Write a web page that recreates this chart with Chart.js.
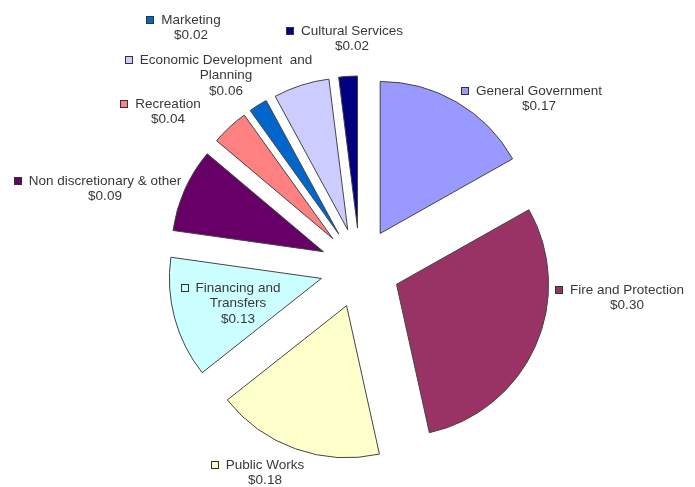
<!DOCTYPE html>
<html>
<head>
<meta charset="utf-8">
<script src="https://cdn.jsdelivr.net/npm/chart.js@4.4.1/dist/chart.umd.min.js"></script>
<style>
  html, body { margin: 0; padding: 0; background: #fff; }
  #wrap { width: 695px; height: 487px; position: relative; }
</style>
</head>
<body>
<div id="wrap"><canvas id="budgetChart"></canvas></div>
<script>
const categories = ['General Government', 'Fire and Protection', 'Public Works', 'Financing and Transfers',
    'Non discretionary & other', 'Recreation', 'Marketing', 'Economic Development  and Planning', 'Cultural Services'];
const values = [0.17, 0.30, 0.18, 0.13, 0.09, 0.04, 0.02, 0.06, 0.02];
const colors = ['#9999ff', '#993366', '#ffffcc', '#ccffff', '#660066', '#ff8080', '#0066cc', '#ccccff', '#000080'];

// where each data label sits (centre of text, first line), plus wrap width
const labelSpots = [
    { x: 539, y: 91 },
    { x: 627, y: 290 },
    { x: 265, y: 465 },
    { x: 238, y: 288, w: 95 },
    { x: 105, y: 181 },
    { x: 168, y: 104 },
    { x: 191, y: 20 },
    { x: 226, y: 60, w: 175 },
    { x: 352, y: 31 }
];

const explode = 40; // px each slice is pulled out from the centre

// push every arc out along its middle angle by the same distance
const explodeSlices = {
    id: 'explodeSlices',
    afterDatasetsUpdate(chart) {
        chart.getDatasetMeta(0).data.forEach(arc => {
            const mid = (arc.startAngle + arc.endAngle) / 2;
            arc.x += Math.cos(mid) * explode;
            arc.y += Math.sin(mid) * explode;
        });
    }
};

function wrapText(ctx, text, maxW) {
    const words = text.split(' ');
    const lines = [];
    let cur = '';
    words.forEach(w => {
        const test = cur === '' ? w : cur + ' ' + w;
        if (cur !== '' && ctx.measureText(test).width > maxW) {
            lines.push(cur);
            cur = w;
        } else {
            cur = test;
        }
    });
    lines.push(cur);
    return lines;
}

const pieLabels = {
    id: 'pieLabels',
    afterDraw(chart) {
        const ctx = chart.ctx;
        ctx.save();
        ctx.font = '13.5px "Liberation Sans", Arial, sans-serif';
        ctx.textAlign = 'center';
        ctx.textBaseline = 'middle';
        chart.data.labels.forEach((name, i) => {
            const spot = labelSpots[i];
            const lines = wrapText(ctx, name, spot.w || 999);
            lines.push('$' + chart.data.datasets[0].data[i].toFixed(2));
            ctx.fillStyle = '#383838';
            lines.forEach((ln, k) => {
                ctx.fillText(ln, spot.x, spot.y + k * 15.5);
            });
            // legend key in front of the first line
            const w0 = ctx.measureText(lines[0]).width;
            const sx = Math.round(spot.x - w0 / 2 - 15) + 0.5;
            const sy = Math.round(spot.y - 4) + 0.5;
            ctx.fillStyle = colors[i];
            ctx.fillRect(sx, sy, 7, 7);
            ctx.strokeStyle = '#333';
            ctx.lineWidth = 1;
            ctx.strokeRect(sx, sy, 7, 7);
        });
        ctx.restore();
    }
};

const ctx = document.getElementById('budgetChart').getContext('2d');
const myChart = new Chart(ctx, {
    type: 'pie',
    data: {
        labels: categories,
        datasets: [{
            data: values,
            backgroundColor: colors,
            borderColor: '#444',
            borderWidth: 1,
            hoverOffset: 0
        }]
    },
    options: {
        responsive: true,
        maintainAspectRatio: false,
        animation: false,
        radius: 152,
        layout: { padding: { left: 25, right: 0, top: 49, bottom: 0 } },
        plugins: {
            legend: { display: false },
            tooltip: { enabled: false }
        }
    },
    plugins: [explodeSlices, pieLabels]
});
</script>
</body>
</html>
